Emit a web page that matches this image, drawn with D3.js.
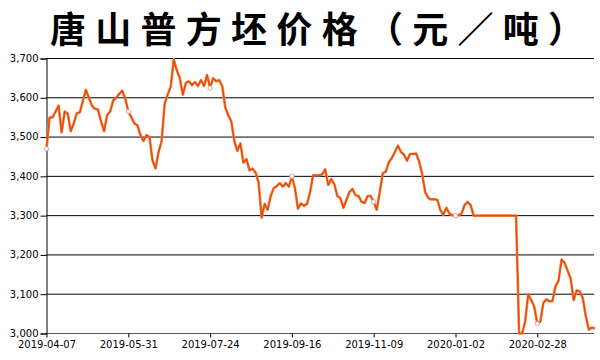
<!DOCTYPE html>
<html lang='zh'>
  <head>
    <meta charset='utf-8'>
    <title>唐山普方坯价格</title>
    <script src='https://d3js.org/d3.v7.min.js'></script>
    <style>
      html, body { margin: 0; padding: 0; background: #fff; }
      .tick text { font-family: 'DejaVu Sans', sans-serif; font-size: 10px; fill: #000; }
    </style>
  </head>
  <body>
    <div class='vis'></div>
    <script>
      // tick labels, one every 27 points
      const tickDates = ['2019-04-07', '2019-05-31', '2019-07-24', '2019-09-16', '2019-11-09', '2020-01-02', '2020-02-28'];
      const tickStep = 27;
      const yTicks = [3000, 3100, 3200, 3300, 3400, 3500, 3600, 3700];

      // price (yuan / ton)
      const prices = [
        3470, 3550, 3550, 3565, 3580, 3512, 3565, 3560, 3515, 3535,
        3560, 3563, 3592, 3620, 3600, 3580, 3572, 3570, 3540, 3515,
        3556, 3565, 3593, 3600, 3610, 3618, 3598, 3565, 3550, 3535,
        3530, 3505, 3490, 3505, 3500, 3440, 3420, 3462, 3490, 3585,
        3608, 3628, 3698, 3670, 3650, 3608, 3638, 3642, 3632, 3640,
        3630, 3645, 3630, 3658, 3625, 3650, 3642, 3645, 3630, 3576,
        3555, 3540, 3490, 3465, 3484, 3435, 3444, 3415, 3420, 3410,
        3385, 3295, 3330, 3315, 3350, 3370, 3375, 3383, 3374, 3383,
        3374, 3400, 3370, 3318, 3331, 3325, 3330, 3360, 3403, 3403,
        3403, 3405, 3418, 3378, 3393, 3380, 3350, 3344, 3320, 3340,
        3360, 3368, 3352, 3350, 3335, 3332, 3350, 3350, 3335, 3315,
        3360, 3408, 3412, 3436, 3447, 3462, 3478, 3462, 3455, 3440,
        3457, 3457, 3458, 3438, 3405, 3360, 3345, 3341, 3342, 3340,
        3314, 3302, 3320, 3305, 3301, 3300, 3301, 3305, 3327, 3335,
        3327, 3300, 3300, 3300, 3300, 3300, 3300, 3300, 3300, 3300,
        3300, 3300, 3300, 3300, 3300, 3300, 3000, 3000, 3030, 3100,
        3085, 3068, 3025, 3030, 3078, 3087, 3082, 3083, 3120, 3134,
        3188, 3180, 3160, 3140, 3085, 3110, 3107, 3090, 3045, 3010,
        3015, 3013
      ];

      const width = 600;
      const height = 360;
      const margin = {top: 58.5, right: 6, bottom: 26.5, left: 46.5};

      const svg = d3.select('.vis')
        .append('svg')
          .attr('width', width)
          .attr('height', height);

      // title
      svg.append('text')
        .attr('x', 50)
        .attr('y', 43)
        .attr('textLength', 534)
        .attr('lengthAdjust', 'spacing')
        .style('font-family', "'Noto Sans CJK SC', sans-serif")
        .style('font-size', '36px')
        .style('font-weight', 700)
        .style('fill', '#000')
        .text('唐山普方坯价格（元／吨）');

      const xScale = d3.scaleLinear()
        .domain([0, prices.length - 1])
        .range([margin.left, margin.left + (prices.length - 1) * 81.8 / tickStep]);

      const yScale = d3.scaleLinear()
        .domain([3000, 3700])
        .range([height - margin.bottom, margin.top]);

      const right = width - margin.right;

      // gridlines
      svg.append('g')
        .selectAll('line')
        .data(yTicks).enter()
        .append('line')
          .attr('x1', margin.left)
          .attr('x2', right)
          .attr('y1', (d) => yScale(d))
          .attr('y2', (d) => yScale(d))
          .attr('stroke', (d) => d === 3000 ? '#555' : '#000')
          .attr('stroke-width', 1);

      // y axis
      const yAxis = d3.axisLeft(yScale)
        .tickValues(yTicks)
        .tickSize(6)
        .tickPadding(2)
        .tickFormat(d3.format(','));
      const yG = svg.append('g')
        .attr('transform', 'translate(' + margin.left + ',0)')
        .call(yAxis);
      yG.select('.domain').attr('stroke', '#000');
      yG.selectAll('.tick text').attr('dy', '0.28em');

      // x axis
      const tickIdx = tickDates.map((d, i) => i * tickStep);
      const xAxis = d3.axisBottom(xScale)
        .tickValues(tickIdx)
        .tickSize(4)
        .tickSizeOuter(0)
        .tickPadding(3)
        .tickFormat((d) => tickDates[d / tickStep]);
      const xG = svg.append('g')
        .attr('transform', 'translate(0,' + yScale(3000) + ')')
        .call(xAxis);
      xG.select('.domain').remove();

      // price line
      const line = d3.line()
        .x((d, i) => xScale(i))
        .y((d) => yScale(d))
        .curve(d3.curveLinear);

      svg.append('path')
        .datum(prices)
        .attr('fill', 'none')
        .attr('stroke', '#f7802c')
        .attr('stroke-width', 2.6)
        .attr('stroke-linejoin', 'round')
        .attr('d', line);
      svg.append('path')
        .datum(prices)
        .attr('fill', 'none')
        .attr('stroke', '#e2461a')
        .attr('stroke-width', 1.2)
        .attr('stroke-linejoin', 'round')
        .attr('d', line);

      // hollow markers at the labelled dates
      svg.append('g')
        .selectAll('circle')
        .data(tickIdx).enter()
        .append('circle')
          .attr('cx', (d) => xScale(d))
          .attr('cy', (d) => yScale(prices[d]))
          .attr('r', 2.2)
          .attr('fill', '#fff')
          .attr('stroke', '#d88a8a')
          .attr('stroke-width', 0.8);
    </script>
  </body>
</html>
